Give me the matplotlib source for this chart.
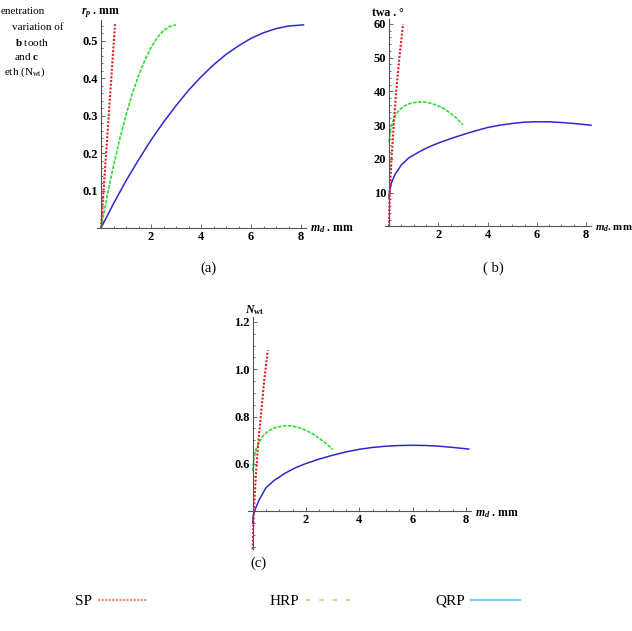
import numpy as np
import matplotlib
matplotlib.use('Agg')
import matplotlib.pyplot as plt
from matplotlib.ticker import MultipleLocator, FormatStrFormatter
from matplotlib.lines import Line2D

plt.rcParams['font.family'] = ['Liberation Serif', 'DejaVu Serif']
plt.rcParams['mathtext.fontset'] = 'custom'
plt.rcParams['mathtext.it'] = 'Liberation Serif:italic:bold'
plt.rcParams['mathtext.rm'] = 'Liberation Serif:bold'
plt.rcParams['mathtext.bf'] = 'Liberation Serif:bold'

# (a) penetration depth r_p vs m_d
sp_a_x = [0, 0.14, 0.28, 0.42, 0.56]
sp_a_y = [0, 0.136, 0.272, 0.408, 0.545]
hrp_a_x = [0, 0.25, 0.5, 0.75, 1.0, 1.25, 1.5, 1.75, 2.0, 2.25, 2.5, 2.75, 3.0]
hrp_a_y = [0, 0.087, 0.166, 0.238, 0.302, 0.358, 0.407, 0.448, 0.483, 0.509, 0.528, 0.539, 0.543]
qrp_a_x = [0, 0.5, 1, 1.5, 2, 2.5, 3, 3.5, 4, 4.5, 5, 5.5, 6, 6.5, 7, 7.5, 8.1]
qrp_a_y = [0, 0.065, 0.126, 0.182, 0.235, 0.283, 0.327, 0.368, 0.404, 0.436,
           0.464, 0.487, 0.507, 0.522, 0.533, 0.540, 0.543]

# (b) tooth wear angle vs m_d
sp_b_x = [0, 0.03, 0.1, 0.19, 0.29, 0.42, 0.57]
sp_b_y = [0, 10, 20, 30, 40, 50, 60]
hrp_b_x = [0, 0.05, 0.12, 0.25, 0.4, 0.6, 0.8, 1.0, 1.25, 1.5, 1.75, 2.0, 2.25, 2.5, 2.75, 3.0]
hrp_b_y = [25, 28, 30.5, 32.8, 34.4, 35.6, 36.3, 36.7, 36.9, 36.8, 36.4, 35.7, 34.8, 33.5, 32.0, 30.1]
qrp_b_x = [0, 0.02, 0.1, 0.25, 0.5, 0.8, 1.2, 1.6, 2.0, 2.5, 3.0, 3.5, 4.0, 4.5,
           5.0, 5.5, 6.0, 6.5, 7.0, 7.5, 8.2]
qrp_b_y = [8.5, 10.5, 13, 15.5, 18.2, 20.3, 22.0, 23.5, 24.7, 26.0, 27.2, 28.3, 29.3, 30.0,
           30.5, 30.9, 31.0, 31.0, 30.8, 30.5, 30.0]

# (c) N_wt vs m_d
sp_c_x = [0, 0.02, 0.06, 0.13, 0.22, 0.32, 0.44, 0.57]
sp_c_y = [0.24, 0.33, 0.44, 0.57, 0.70, 0.82, 0.96, 1.08]
hrp_c_x = [0, 0.05, 0.12, 0.25, 0.4, 0.6, 0.8, 1.0, 1.25, 1.5, 1.75, 2.0, 2.25, 2.5, 2.75, 3.0]
hrp_c_y = [0.57, 0.62, 0.66, 0.695, 0.72, 0.74, 0.752, 0.758, 0.762, 0.760, 0.753, 0.742,
           0.727, 0.708, 0.687, 0.662]
qrp_c_x = [0, 0.02, 0.1, 0.25, 0.5, 0.8, 1.2, 1.6, 2.0, 2.5, 3.0, 3.5, 4.0, 4.5,
           5.0, 5.5, 6.0, 6.5, 7.0, 7.5, 8.1]
qrp_c_y = [0.35, 0.38, 0.41, 0.45, 0.50, 0.53, 0.56, 0.584, 0.602, 0.621, 0.637, 0.651,
           0.662, 0.670, 0.675, 0.678, 0.679, 0.678, 0.675, 0.670, 0.663]

W, H = 632, 631
fig = plt.figure(figsize=(W / 100, H / 100), dpi=100)


def rect(l, r, b, t):
    return [l / W, (H - b) / H, (r - l) / W, (b - t) / H]


def setup(ax, ylim, yorigin, ymajor, yminor, yfmt):
    ax.set_xlim(-0.16, 8.2)
    ax.set_ylim(*ylim)
    ax.patch.set_alpha(0)
    for s in ['top', 'right']:
        ax.spines[s].set_visible(False)
    ax.spines['left'].set_position(('data', 0))
    ax.spines['bottom'].set_position(('data', yorigin))
    for s in ['left', 'bottom']:
        ax.spines[s].set_color('#555555')
        ax.spines[s].set_linewidth(0.8)
    ax.set_xticks([2, 4, 6, 8])
    ax.xaxis.set_minor_locator(MultipleLocator(0.5))
    ax.set_yticks(ymajor)
    ax.yaxis.set_minor_locator(MultipleLocator(yminor))
    ax.yaxis.set_major_formatter(FormatStrFormatter(yfmt))
    ax.tick_params(which='both', direction='in', color='#555555', width=0.6)
    ax.tick_params(which='major', length=3, labelsize=9, pad=2)
    ax.tick_params(which='minor', length=1.5)
    for lab in ax.get_xticklabels() + ax.get_yticklabels():
        lab.set_fontweight('bold')


def curves(ax, sx, sy, hx, hy, qx, qy):
    ax.plot(qx, qy, color='#2a2ad0', lw=1.1, clip_on=False)
    ax.plot(hx, hy, color='#33dd33', lw=1.2, ls=(0, (2.2, 0.8)), clip_on=False)
    ax.plot(sx, sy, color='#e02020', lw=1.5, ls=(0, (1, 0.8)), clip_on=False)


ax_a = fig.add_axes(rect(97, 306, 228, 20.4))
setup(ax_a, (0, 0.555), 0, [0.1, 0.2, 0.3, 0.4, 0.5], 0.02, '%.1f')
curves(ax_a, sp_a_x, sp_a_y, hrp_a_x, hrp_a_y, qrp_a_x, qrp_a_y)

ax_b = fig.add_axes(rect(385.1, 591, 226.4, 18.9))
setup(ax_b, (0, 61.5), 0, [10, 20, 30, 40, 50, 60], 2, '%d')
curves(ax_b, sp_b_x, sp_b_y, hrp_b_x, hrp_b_y, qrp_b_x, qrp_b_y)

ax_c = fig.add_axes(rect(248.4, 471.4, 549.2, 317.2))
setup(ax_c, (0.24, 1.22), 0.4, [0.6, 0.8, 1.0, 1.2], 0.05, '%.1f')
curves(ax_c, sp_c_x, sp_c_y, hrp_c_x, hrp_c_y, qrp_c_x, qrp_c_y)

# axis labels
lab_kw = dict(fontsize=8.5, fontweight='bold', va='center')
fig.text(101 / W, 1 - 13 / H, r'$r_p$ . mm', ha='center', **lab_kw)
fig.text(310 / W, 1 - 229 / H, r'$m_d$ . mm', ha='left', **lab_kw)
fig.text(388 / W, 1 - 13 / H, 'twa . °', ha='center', **lab_kw)
fig.text(595 / W, 1 - 229 / H, r'$m_d$. mm', ha='left', fontsize=7.8,
         fontweight='bold', va='center')
fig.text(245 / W, 1 - 310 / H, r'$N_{\rm wt}$', ha='left', **lab_kw)
fig.text(475 / W, 1 - 514 / H, r'$m_d$ . mm', ha='left', **lab_kw)

# panel captions
fig.text(208 / W, 1 - 268 / H, '(a)', ha='center', va='center', fontsize=10.5)
fig.text(493 / W, 1 - 268 / H, '( b)', ha='center', va='center', fontsize=10.5)
fig.text(258 / W, 1 - 563 / H, '(c)', ha='center', va='center', fontsize=10.5)

# partial figure caption at the top left
cap_kw = dict(fontsize=8, ha='left', va='center')
fig.text(1 / W, 1 - 12 / H, 'enetration', **cap_kw)
fig.text(12 / W, 1 - 27 / H, 'variation of', **cap_kw)
fig.text(15 / W, 1 - 42 / H, r'$\mathbf{b}$ tooth', **cap_kw)
fig.text(14 / W, 1 - 57 / H, r'and $\mathbf{c}$', **cap_kw)
fig.text(4 / W, 1 - 72 / H, r'eth (N$_{\mathregular{wt}}$)', **cap_kw)

# bottom legend, one entry per position
legend_items = [
    ('SP', '#f08a8a', (0, (1, 0.6)), 1.6, 75),
    ('HRP', '#c8dca0', (0, (2, 4)), 1.6, 270),
    ('QRP', '#7fd0f0', '-', 1.6, 435),
]
for name, col, ls, lw, xpos in legend_items:
    h = Line2D([], [], color=col, ls=ls, lw=lw)
    fig.legend([h], [name], loc='center left', bbox_to_anchor=(xpos / W, 1 - 601 / H),
               frameon=False, markerfirst=False, handlelength=3.2, handletextpad=0.4,
               borderaxespad=0, borderpad=0, fontsize=11)

fig.savefig('out.png', dpi=100)
